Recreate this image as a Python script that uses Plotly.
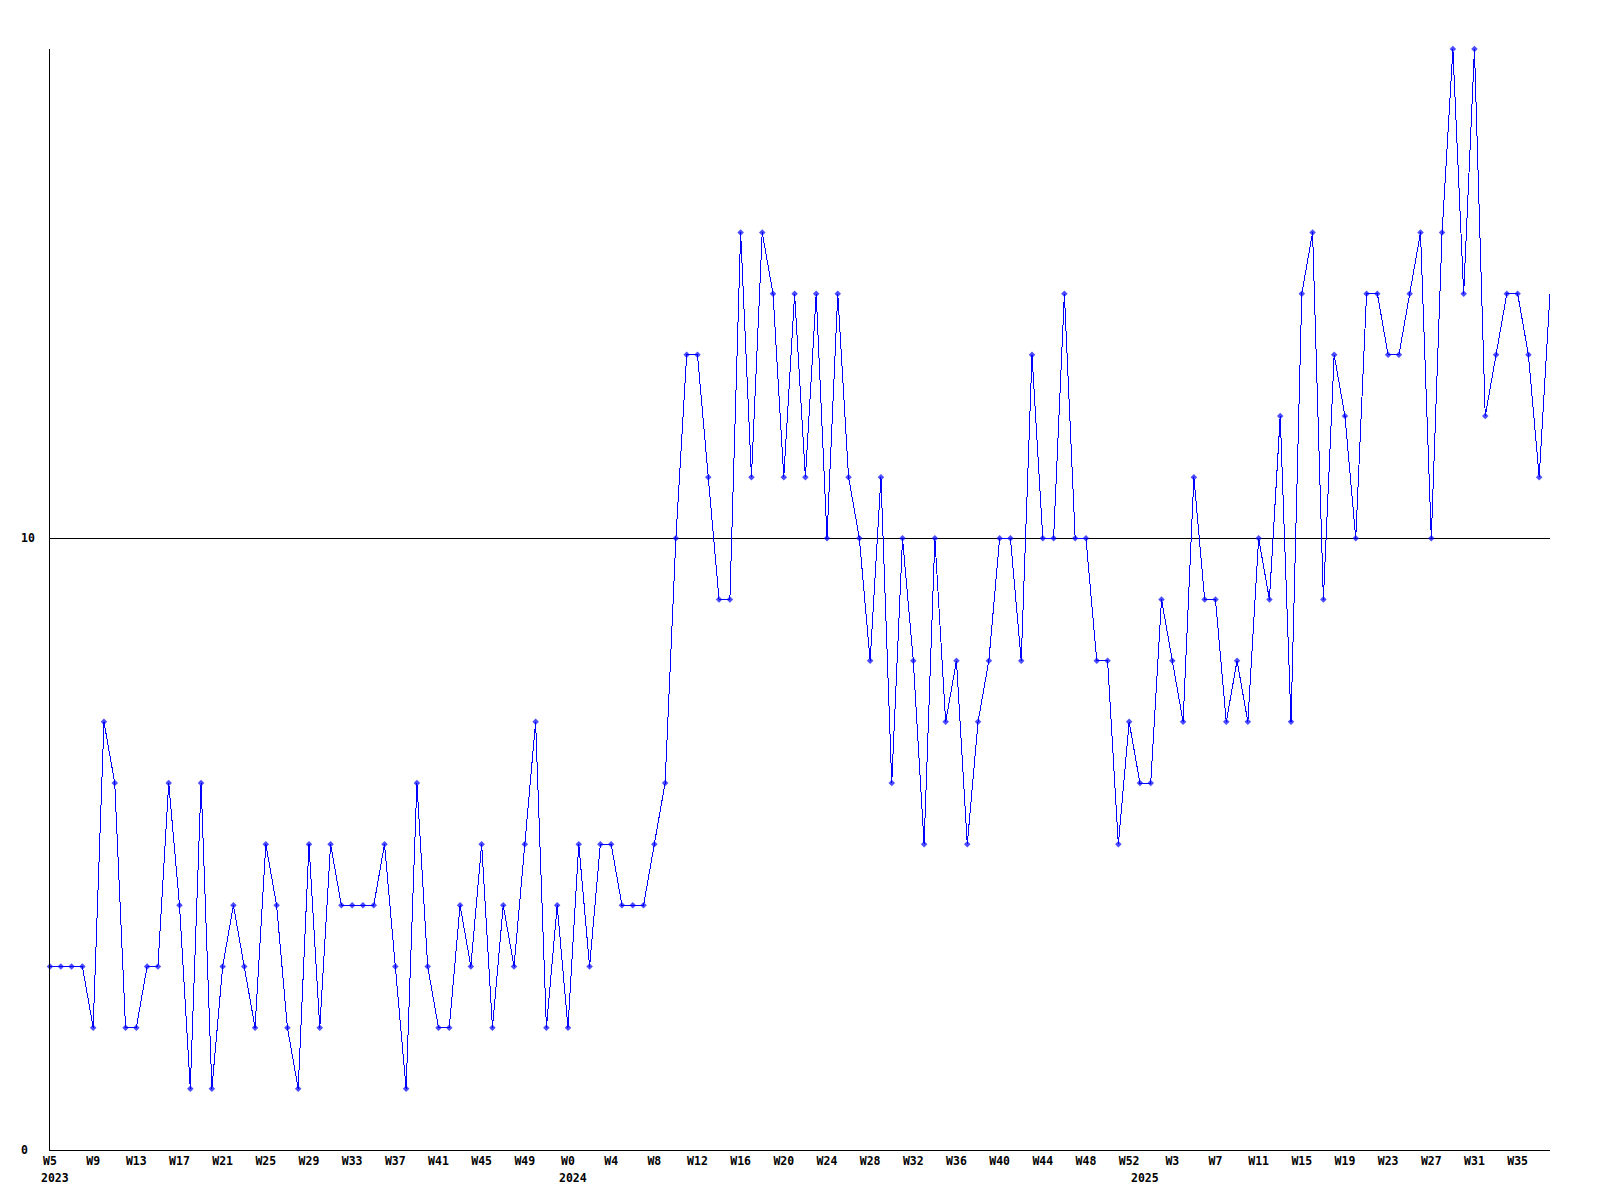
import plotly.graph_objects as go

# Weekly values, 2023 W5 .. 2025 W38 (one per week)
values = [
    3, 3, 3, 3, 2, 7, 6, 2, 2, 3, 3, 6, 4, 1, 6, 1, 3, 4, 3, 2,
    5, 4, 2, 1, 5, 2, 5, 4, 4, 4, 4, 5, 3, 1, 6, 3, 2, 2, 4, 3,
    5, 2, 4, 3, 5, 7, 2, 4, 2, 5, 3, 5, 5, 4, 4, 4, 5, 6, 10, 13,
    13, 11, 9, 9, 15, 11, 15, 14, 11, 14, 11, 14, 10, 14, 11, 10, 8, 11, 6, 10,
    8, 5, 10, 7, 8, 5, 7, 8, 10, 10, 8, 13, 10, 10, 14, 10, 10, 8, 8, 5,
    7, 6, 6, 9, 8, 7, 11, 9, 9, 7, 8, 7, 10, 9, 12, 7, 14, 15, 9, 13,
    12, 10, 14, 14, 13, 13, 14, 15, 10, 15, 18, 14, 18, 12, 13, 14, 14, 13, 11, 14,
]

tick_labels = [
    "W5", "W9", "W13", "W17", "W21", "W25", "W29", "W33", "W37", "W41", "W45", "W49",
    "W0", "W4", "W8", "W12", "W16", "W20", "W24", "W28", "W32", "W36", "W40", "W44",
    "W48", "W52", "W3", "W7", "W11", "W15", "W19", "W23", "W27", "W31", "W35",
]
tick_positions = list(range(0, 4 * len(tick_labels), 4))

years = ["2023", "2024", "2025"]
year_positions = [0, 48, 101]

y_ticks = [0, 10]

FONT = "DejaVu Sans Mono"

x = list(range(len(values)))
sizes = [5] * (len(values) - 1) + [0]

fig = go.Figure()
fig.add_trace(go.Scatter(
    x=x, y=values, mode="lines+markers",
    line=dict(color="#0000FF", width=1),
    marker=dict(symbol="diamond", size=sizes, color="#0000FF", line=dict(width=0)),
    cliponaxis=False, hoverinfo="skip", showlegend=False,
))

annotations = []
for yr, pos in zip(years, year_positions):
    annotations.append(dict(
        x=pos, y=0, xref="x", yref="paper", text=f"<b>{yr}</b>",
        showarrow=False, xanchor="left", yanchor="middle",
        xshift=-11, yshift=-28,
        font=dict(family=FONT, size=11.5, color="black"),
    ))
for v in y_ticks:
    annotations.append(dict(
        x=0, y=v, xref="paper", yref="y", text=f"<b>{v}</b>",
        showarrow=False, xanchor="left", yanchor="middle",
        xshift=-31,
        font=dict(family=FONT, size=11.5, color="black"),
    ))

fig.update_layout(
    width=1600, height=1200,
    margin=dict(l=50, r=50, t=49, b=50),
    paper_bgcolor="white", plot_bgcolor="white",
    annotations=annotations,
    xaxis=dict(
        range=[0, len(values) - 1],
        tickmode="array", tickvals=tick_positions,
        ticktext=[f"<b>{t}</b>" for t in tick_labels],
        ticks="", showgrid=False, zeroline=False,
        showline=True, linecolor="black", linewidth=1,
        tickfont=dict(family=FONT, size=11.5, color="black"),
        fixedrange=True,
    ),
    yaxis=dict(
        range=[0, 18],
        tickmode="array", tickvals=y_ticks, showticklabels=False,
        ticks="", showgrid=True, gridcolor="black", gridwidth=1,
        zeroline=False,
        showline=True, linecolor="black", linewidth=1,
        fixedrange=True,
    ),
)

post = (
    "document.body.style.margin='0';"
    "document.querySelectorAll('.scatterlayer path.js-line').forEach("
    "function(p){p.style.shapeRendering='crispEdges';});"
)
fig.write_html("out.html", post_script=post, config={"displayModeBar": False})
